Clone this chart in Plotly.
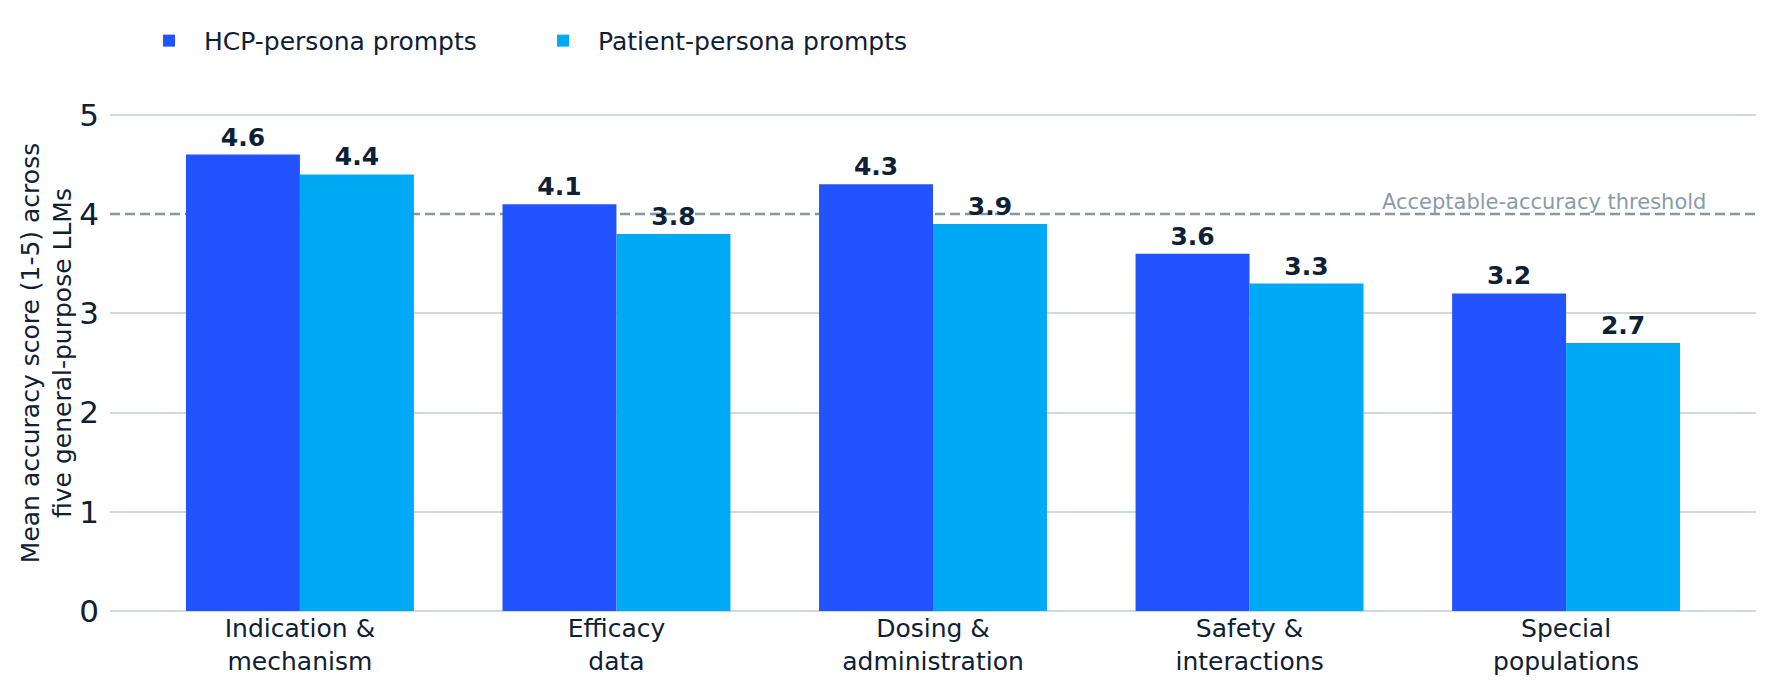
import plotly.graph_objects as go

categories = ["Indication &<br>mechanism", "Efficacy<br>data", "Dosing &<br>administration",
              "Safety &<br>interactions", "Special<br>populations"]
hcp_scores = [4.6, 4.1, 4.3, 3.6, 3.2]
patient_scores = [4.4, 3.8, 3.9, 3.3, 2.7]
threshold = 4.0
y_ticks = [0, 1, 2, 3, 4, 5]
series_names = ["HCP-persona prompts", "Patient-persona prompts"]

TEXT = "#0E2033"
GRID = "#CFD8DC"
FONT = "DejaVu Sans"

fig = go.Figure()
fig.add_trace(go.Bar(
    x=categories, y=hcp_scores, name=series_names[0],
    marker=dict(color="#2352FF", line=dict(width=0)),
    text=[f"{v:.1f}" for v in hcp_scores], textposition="outside",
    textfont=dict(family=FONT, size=25, color=TEXT, weight="bold"),
    cliponaxis=False,
))
fig.add_trace(go.Bar(
    x=categories, y=patient_scores, name=series_names[1],
    marker=dict(color="#00A9F4", line=dict(width=0)),
    text=[f"{v:.1f}" for v in patient_scores], textposition="outside",
    textfont=dict(family=FONT, size=25, color=TEXT, weight="bold"),
    cliponaxis=False,
))

fig.add_shape(type="line", xref="paper", x0=0, x1=1, yref="y", y0=threshold, y1=threshold,
              line=dict(color="#8797A5", width=2.5, dash="10px,5px"), layer="below")
fig.add_annotation(xref="paper", x=0.971, yref="y", y=threshold, yanchor="bottom", xanchor="right",
                   text="Acceptable-accuracy threshold", showarrow=False,
                   font=dict(family=FONT, size=21, color="#8C9AA7"), yshift=-2)

fig.update_layout(
    width=1775, height=693,
    margin=dict(l=110, r=19, t=95, b=82),
    paper_bgcolor="white", plot_bgcolor="white",
    barmode="group", bargap=0.28, bargroupgap=0,
    font=dict(family=FONT, color=TEXT),
    legend=dict(orientation="h", x=0.0146, xanchor="left", y=0.941, yanchor="middle",
                yref="container", font=dict(family=FONT, size=25, color=TEXT),
                itemwidth=60, entrywidth=319, entrywidthmode="pixels", traceorder="normal"),
    showlegend=True,
)
fig.update_xaxes(range=[-0.6, 4.6], showgrid=False, showline=False, zeroline=False,
                 tickfont=dict(family=FONT, size=25, color=TEXT), ticks="")
# gridlines drawn as minor grid everywhere except at the threshold value,
# so the dashed threshold line is not covered by a solid gridline
fig.update_yaxes(range=[0, 5.2], tickvals=y_ticks, showgrid=False,
                 minor=dict(tickvals=[v for v in y_ticks if v not in (0, threshold)],
                            showgrid=True, gridcolor=GRID, gridwidth=1.5, ticks=""),
                 zeroline=True, zerolinecolor=GRID, zerolinewidth=1.5,
                 showline=False, ticks="", ticklabelstandoff=10,
                 tickfont=dict(family=FONT, size=31, color=TEXT),
                 title=dict(text="Mean accuracy score (1-5) across<br>five general-purpose LLMs",
                            font=dict(family=FONT, size=25, color=TEXT), standoff=0))

fig.write_html("out.html")
